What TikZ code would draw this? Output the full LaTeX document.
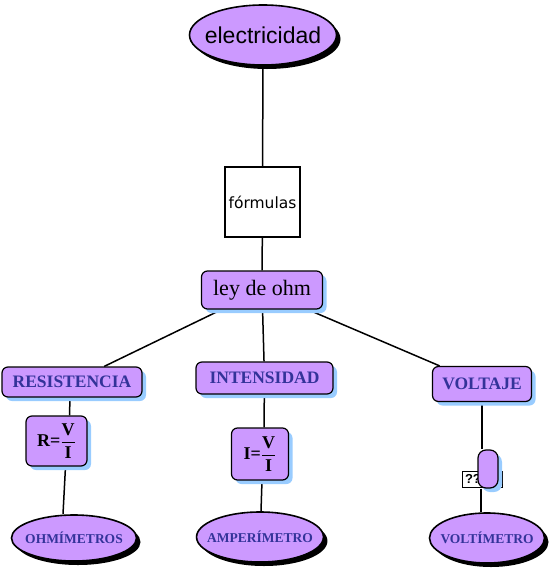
\documentclass[tikz,border=0pt]{standalone}
\usepackage{fontspec}
\setmainfont{Liberation Serif}
\newfontfamily\arialf{Liberation Sans}
\newfontfamily\verdf{DejaVu Sans}
\usepackage{tikz}
\usetikzlibrary{shapes.geometric,shadows,backgrounds}
\definecolor{lila}{HTML}{CC99FF}
\definecolor{sombra}{HTML}{99CCFF}
\definecolor{azultxt}{HTML}{333399}
\tikzset{
  elipse/.style={ellipse,draw=black,line width=1.6pt,fill=lila,inner ysep=0pt,inner xsep=-8pt,
    drop shadow={fill=black,opacity=1,shadow xshift=4pt,shadow yshift=-4pt}},
  caja/.style={rounded corners=6pt,draw=black,line width=1.2pt,fill=lila,inner sep=0pt,
    drop shadow={fill=sombra,opacity=1,shadow xshift=4pt,shadow yshift=-4pt}},
  etiq/.style={font=\bfseries\fontsize{17.5}{20}\selectfont,text=azultxt},
  etiqel/.style={font=\bfseries\fontsize{13.5}{16}\selectfont,text=azultxt},
  formula/.style={font=\bfseries\fontsize{18}{20}\selectfont},
  enlace/.style={draw=black,line width=1.5pt}
}

\begin{document}
\begin{tikzpicture}[x=1pt,y=-1pt]
  \useasboundingbox (0,0) rectangle (554,571);
  % nodos principales
  \node[elipse,minimum width=147pt,minimum height=60pt,
    font=\arialf\fontsize{23}{26}\selectfont] (elec) at (263,35) {electricidad};
  \node[draw=black,line width=1.2pt,fill=white,minimum width=75pt,minimum height=70pt,
    inner sep=0pt,font=\verdf\fontsize{15.5}{18}\selectfont] (form) at (262.5,202) {fórmulas};
  \node[caja,minimum width=121pt,minimum height=38pt,
    font=\fontsize{22}{24}\selectfont] (ley) at (262,290) {ley de ohm};
  % magnitudes
  \node[caja,etiq,minimum width=140pt,minimum height=30pt] (res) at (72,382) {RESISTENCIA};
  \node[caja,etiq,minimum width=137pt,minimum height=32pt] (int) at (264.5,378) {INTENSIDAD};
  \node[caja,etiq,minimum width=99pt,minimum height=35pt] (vol) at (482,384) {VOLTAJE};
  % formulas
  \node[caja,formula,minimum width=61pt,minimum height=50pt] (rf) at (56.5,441)
    {R=$\displaystyle\frac{\mbox{\bfseries V}}{\mbox{\bfseries I}}$};
  \node[caja,formula,minimum width=57pt,minimum height=52pt] (if) at (260,454)
    {I=$\displaystyle\frac{\mbox{\bfseries V}}{\mbox{\bfseries I}}$};
  \node[draw=black,line width=1pt,fill=white,minimum width=40pt,minimum height=16pt,
    inner sep=0pt,text width=34pt,align=left,font=\arialf\bfseries\fontsize{13}{15}\selectfont]
    (qm) at (482,479) {??};
  \node[caja,rounded corners=8pt,minimum width=20pt,minimum height=38pt] (vacio) at (488,469) {};
  % aparatos
  \node[elipse,etiqel,minimum width=125pt,minimum height=46pt] (ohm) at (74,538) {OHMÍMETROS};
  \node[elipse,etiqel,minimum width=124pt,minimum height=50pt] (amp) at (260,537) {AMPERÍMETRO};
  \node[elipse,etiqel,minimum width=115pt,minimum height=50pt] (volm) at (487,538) {VOLTÍMETRO};
  % enlaces
  \begin{scope}[on background layer]
    \draw[enlace] (elec) -- (form);
    \draw[enlace] (form) -- (ley);
    \draw[enlace] (ley) -- (res);
    \draw[enlace] (ley) -- (int);
    \draw[enlace] (ley) -- (vol);
    \draw[enlace] ([xshift=-2pt]res.south) -- ([xshift=13pt]rf.north);
    \draw[enlace] ([xshift=9pt]rf.south) -- ([xshift=-11pt]ohm.north);
    \draw[enlace] (int) -- ([xshift=4pt]if.north);
    \draw[enlace] ([xshift=2pt]if.south) -- ([xshift=1pt]amp.north);
    \draw[enlace] (vol.south) -- ([xshift=-6pt]vacio.north);
    \draw[enlace] ([xshift=-7pt]vacio.south) -- ([xshift=-6pt]volm.north);
  \end{scope}
\end{tikzpicture}
\end{document}
